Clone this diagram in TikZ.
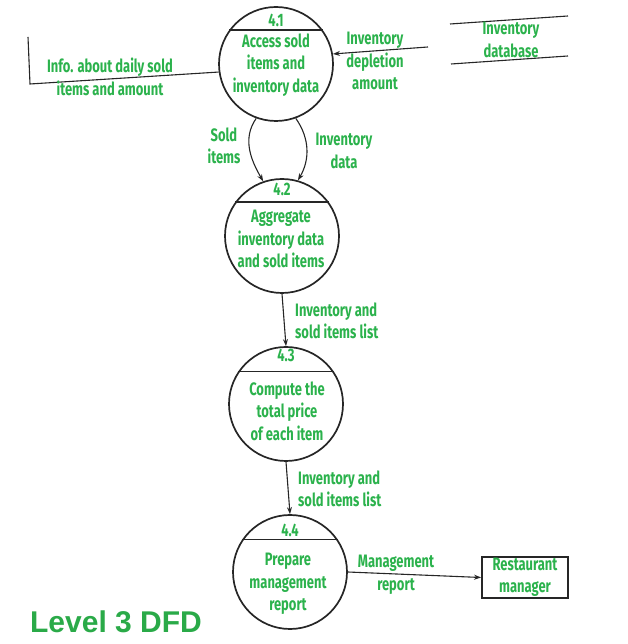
\documentclass[tikz,border=0pt]{standalone}
\usepackage{fontspec}
\usepackage{tikz}
\usetikzlibrary{arrows.meta, positioning, calc}
\usepackage{xcolor}
\definecolor{dfdgreen}{HTML}{2BB24C}
\definecolor{titlegreen}{HTML}{2AAA48}
\definecolor{inkline}{HTML}{262626}
\newfontfamily\lblfont{Fira Sans}[FakeStretch=0.72]
\newfontfamily\titlefont{Liberation Sans}

\begin{document}
\begin{tikzpicture}[x=1pt, y=1pt,
    proc/.style={draw=inkline, circle, line width=1.7pt, minimum size=114pt, inner sep=0pt},
    lbl/.style={text=dfdgreen, align=center, inner sep=0pt, font=\lblfont\bfseries\fontsize{18}{22.5}\selectfont},
    divline/.style={draw=inkline, line width=1.2pt},
    flow/.style={draw=inkline, line width=1.1pt, -{Stealth[length=7pt, width=5pt]}},
    plain/.style={draw=inkline, line width=1.1pt}]
    \useasboundingbox (0,0) rectangle (627,644);

    \node[proc] (p41) at (276,580) {};
    \node[proc] (p42) at (282,408) {};
    \node[proc] (p43) at (286,240) {};
    \node[proc] (p44) at (290,72) {};

    \draw[divline] (p41.144) -- (p41.36);
    \draw[divline] (p42.144) -- (p42.36);
    \draw[divline] (p43.146) -- (p43.34);
    \draw[divline] (p44.146) -- (p44.34);

    \node[lbl] (n41) at ($(p41)+(0,44)$) {4.1};
    \node[lbl] (n42) at ($(p42)+(0,47)$) {4.2};
    \node[lbl] (n43) at ($(p43)+(0,49)$) {4.3};
    \node[lbl] (n44) at ($(p44)+(0,42)$) {4.4};

    \node[lbl] (t41) at (276,579) {Access sold\\items and\\inventory data};
    \node[lbl] (t42) at (281,405) {Aggregate\\inventory data\\and sold items};
    \node[lbl] (t43) at (287,233) {Compute the\\total price\\of each item};
    \node[lbl] (t44) at (288,60) {Prepare\\management\\report};

    \coordinate (infocorner) at (30,560);
    \coordinate (infoend) at (28,607);
    \draw[plain] (p41.188) -- (infocorner) -- (infoend);
    \node[lbl] (infolbl) at (110,567) {Info. about daily sold\\items and amount};

    \coordinate (storea) at (450,620);
    \coordinate (storeb) at (568,628);
    \coordinate (storec) at (451,580);
    \coordinate (stored) at (568,588);
    \draw[plain] (storea) -- (storeb);
    \draw[plain] (storec) -- (stored);
    \node[lbl] (store) at (511,604) {Inventory\\database};

    \coordinate (depstart) at (428,597);
    \draw[flow] (depstart) -- (p41.10);
    \node[lbl] (deplbl) at (375,583) {Inventory\\depletion\\amount};

    \draw[flow] (p41.250) to[out=235, in=120] (p42.109);
    \node[lbl] (soldlbl) at (224,498) {Sold\\items};
    \draw[flow] (p41.290) to[out=-55, in=60] (p42.74);
    \node[lbl] (invlbl) at (344,493) {Inventory\\data};

    \draw[flow] (p42.south) -- (p43.north);
    \node[lbl, anchor=west, align=left] (list1) at (295,323) {Inventory and\\sold items list};
    \draw[flow] (p43.south) -- (p44.north);
    \node[lbl, anchor=west, align=left] (list2) at (298,155) {Inventory and\\sold items list};

    \node[draw=inkline, line width=1.8pt, minimum width=86pt, minimum height=41pt, inner sep=0pt] (mgr) at (525,66.5) {};
    \node[lbl] (mgrlbl) at (mgr) {Restaurant\\manager};
    \draw[flow] (p44.east) -- (mgr.west);
    \node[lbl] (replbl) at (396,69) {Management\\report};

    \node[text=titlegreen, inner sep=0pt, font=\titlefont\bfseries\fontsize{30}{30}\selectfont] (title) at (116,22) {Level 3 DFD};
\end{tikzpicture}
\end{document}
